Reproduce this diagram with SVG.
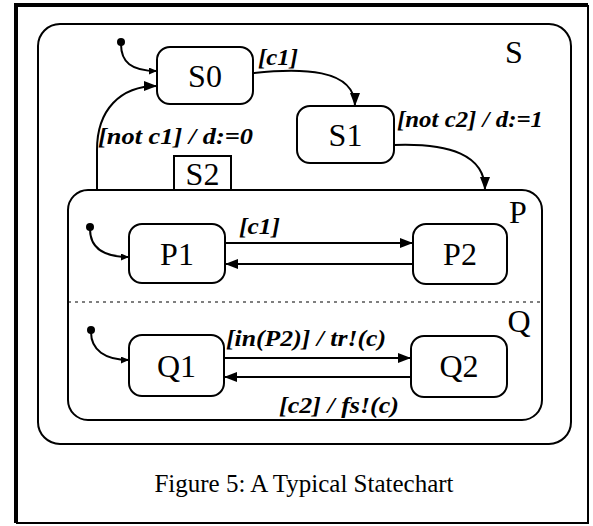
<svg xmlns="http://www.w3.org/2000/svg" width="593" height="526" viewBox="0 0 593 526">
<defs>
<style>
.st{fill:#fff;stroke:#000;stroke-width:2}
.nm{font-family:"Liberation Serif","Times New Roman",serif;font-size:32px;fill:#000;text-anchor:middle}
.lb{font-family:"Liberation Serif","Times New Roman",serif;font-size:23px;font-weight:bold;font-style:italic;fill:#000}
.cn{fill:none;stroke:#000;stroke-width:2}
.in{fill:none;stroke:#000;stroke-width:2;marker-end:url(#sa)}
.tr{fill:none;stroke:#000;stroke-width:2;marker-end:url(#la)}
</style>
<marker id="la" viewBox="0 0 13 10" refX="13" refY="5" markerWidth="13" markerHeight="10" markerUnits="userSpaceOnUse" orient="auto">
<path d="M0,0 L13,5 L0,10 Z" fill="#000"/>
</marker>
<marker id="sa" viewBox="0 0 8 7" refX="8" refY="3.5" markerWidth="8" markerHeight="7" markerUnits="userSpaceOnUse" orient="auto">
<path d="M0,0 L8,3.5 L0,7 Z" fill="#000"/>
</marker>
</defs>
<rect width="593" height="526" fill="#fff"/>
<g id="frame">
<path d="M16,523 L16,5 L588,5" fill="none" stroke="#000" stroke-width="4"/>
<path d="M588,5 L588,523 L16,523" fill="none" stroke="#000" stroke-width="2"/>
</g>
<g id="S">
<rect class="st" x="38" y="24" width="533" height="420" rx="22"/>
<text class="nm" x="514" y="63">S</text>
</g>
<g id="P">
<rect class="st" x="68" y="190" width="474" height="230" rx="20"/>
<line x1="68" y1="302" x2="542" y2="302" stroke="#000" stroke-width="1.2" stroke-dasharray="3,4"/>
<text class="nm" x="518" y="223">P</text>
<text class="nm" x="519" y="332">Q</text>
</g>
<g id="S2">
<rect x="174" y="156" width="57" height="34" fill="#fff" stroke="#000" stroke-width="2"/>
<text class="nm" x="202.5" y="185">S2</text>
</g>
<g id="S0">
<rect class="st" x="157" y="47" width="96" height="57" rx="13"/>
<text class="nm" x="205" y="87">S0</text>
</g>
<g id="S1">
<rect class="st" x="297" y="106" width="97" height="57" rx="13"/>
<text class="nm" x="345.5" y="146">S1</text>
</g>
<g id="P1">
<rect class="st" x="129" y="224" width="96" height="59" rx="13"/>
<text class="nm" x="177" y="265">P1</text>
</g>
<g id="P2">
<rect class="st" x="413" y="224" width="94" height="60" rx="13"/>
<text class="nm" x="460" y="265">P2</text>
</g>
<g id="Q1">
<rect class="st" x="129" y="335" width="95" height="61" rx="13"/>
<text class="nm" x="176.5" y="377">Q1</text>
</g>
<g id="Q2">
<rect class="st" x="411" y="336" width="96" height="61" rx="13"/>
<text class="nm" x="459" y="377">Q2</text>
</g>
<g id="connectors">
<circle cx="121" cy="42" r="4" fill="#000"/>
<path class="in" d="M121,44 C121,62 131,71 157,71"/>
<path class="tr" d="M97,190 L97,150 C97,110 120,86 157,86"/>
<path class="tr" d="M253,73 C300,68 355,68 355,106"/>
<path class="tr" d="M394,145 C450,143 485,155 485,190"/>
<circle cx="90" cy="227" r="4" fill="#000"/>
<path class="in" d="M90,229 C90,248 104,257 129,257"/>
<circle cx="91" cy="330" r="4" fill="#000"/>
<path class="in" d="M91,332 C91,350 105,360 129,360"/>
<path class="tr" d="M225,243 L413,243"/>
<path class="tr" d="M413,264 L225,264"/>
<path class="tr" d="M224,358 L411,358"/>
<path class="tr" d="M411,377 L224,377"/>
<text class="lb" x="258" y="65" textLength="40" lengthAdjust="spacingAndGlyphs">[c1]</text>
<text class="lb" x="98" y="144" textLength="155" lengthAdjust="spacingAndGlyphs">[not c1] / d:=0</text>
<text class="lb" x="397" y="127" textLength="146" lengthAdjust="spacingAndGlyphs">[not c2] / d:=1</text>
<text class="lb" x="239" y="234" textLength="41" lengthAdjust="spacingAndGlyphs">[c1]</text>
<text class="lb" x="226" y="346" textLength="160" lengthAdjust="spacingAndGlyphs">[in(P2)] / tr!(c)</text>
<text class="lb" x="279" y="413" textLength="120" lengthAdjust="spacingAndGlyphs">[c2] / fs!(c)</text>
</g>
<text x="304" y="492" font-family="'Liberation Serif','Times New Roman',serif" font-size="25" text-anchor="middle" fill="#000">Figure 5: A Typical Statechart</text>
</svg>
